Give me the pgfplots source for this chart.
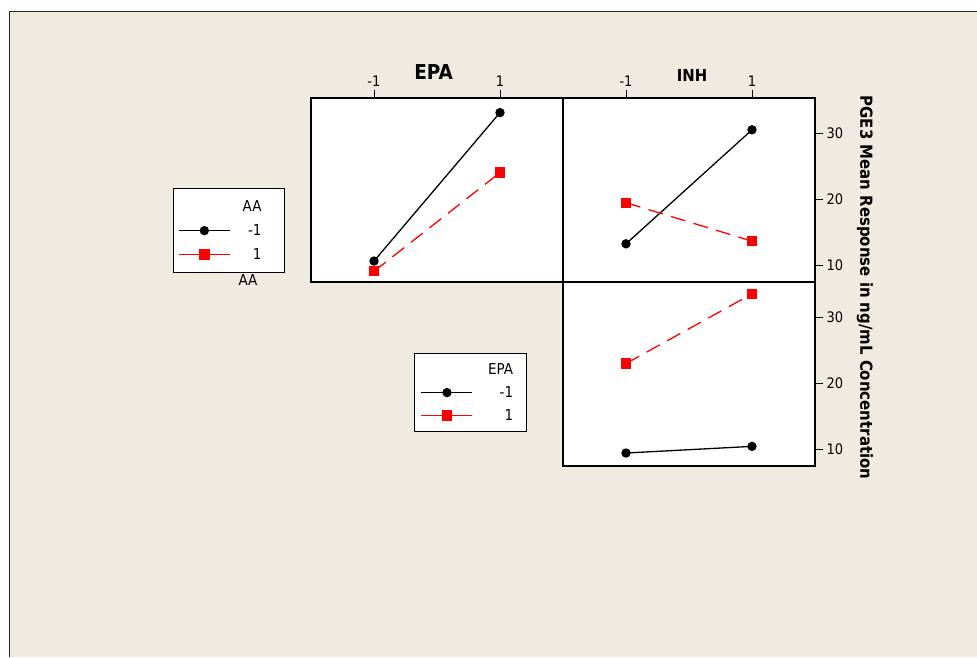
\documentclass[border=0pt]{standalone}
\usepackage{pgfplots}
\pgfplotsset{compat=1.18}
\usepackage{fontspec}
\setmainfont{DejaVu Sans Condensed}
\definecolor{bg}{RGB}{240,235,224}
\definecolor{myred}{RGB}{255,0,0}
\newcommand{\lt}[3]{\makebox[#1pt][l]{\makebox[#2pt][r]{#3}}}
\pgfplotsset{
  panel/.style={
    scale only axis, width=252pt, height=184pt,
    xmin=-2, xmax=2, ymin=7.54, ymax=35.3,
    axis line style={line width=1.2pt, black},
    tick style={line width=1pt, black},
    major tick length=8pt, tick align=outside,
    axis background/.style={fill=white},
    tick label style={font=\fontsize{14.5}{16}\selectfont},
    clip=false,
    legend image code/.code={\draw[mark repeat=2,mark phase=2,#1,solid] plot coordinates {(0pt,0pt)(25.5pt,0pt)(51pt,0pt)};},
  },
  blk/.style={black, solid, line width=1.3pt, mark=*, mark size=4pt, mark options={solid, fill=black}},
  rd/.style={myred, line width=1.3pt, dash pattern=on 15pt off 8.5pt, mark=square*, mark size=4.5pt, mark options={solid, fill=myred}},
  leg/.style={draw=black, line width=1pt, fill=white, column sep=3pt,
    nodes={inner sep=0pt, text height=10pt, text depth=0pt, font=\fontsize{15}{17}\selectfont},
    cells={anchor=west}},
}
\begin{document}
\begin{tikzpicture}
\path[use as bounding box] (0pt,0pt) rectangle (977pt,657pt);
\fill[white] (0pt,0pt) rectangle (977pt,657pt);
\fill[bg] (9pt,0pt) rectangle (977pt,645pt);
\draw[line width=1pt, black!85] (9pt,0pt) -- (9pt,645pt) -- (977pt,645pt);

% top-left panel: EPA on x, lines by AA
\begin{axis}[panel, at={(311pt,375pt)}, anchor=south west,
  xtick={-1,1}, xticklabels={-1,1}, xtick pos=right, xticklabel pos=right,
  ytick=\empty,
  legend style={leg, at={(-0.5488,0.509)}, anchor=north west, inner xsep=5pt, inner ysep=13pt, row sep=13.8pt}]
\addlegendimage{empty legend}
\addlegendentry{\lt{46}{28}{AA}}
\addplot[blk] coordinates {(-1,10.7) (1,33.1)};
\addlegendentry{\lt{46}{28}{-1}}
\addplot[rd] coordinates {(-1,9.15) (1,24.05)};
\addlegendentry{\lt{46}{28}{1}}
\end{axis}

% top-right panel: INH on x, lines by AA
\begin{axis}[panel, at={(563pt,375pt)}, anchor=south west,
  xtick={-1,1}, xticklabels={-1,1}, xtick pos=right, xticklabel pos=right,
  ytick={10,20,30}, yticklabels={10,20,30}, ytick pos=right, yticklabel pos=right]
\addplot[blk] coordinates {(-1,13.3) (1,30.5)};
\addplot[rd] coordinates {(-1,19.5) (1,13.7)};
\end{axis}

% bottom-right panel: INH on x, lines by EPA
\begin{axis}[panel, at={(563pt,191pt)}, anchor=south west,
  xtick=\empty,
  ytick={10,20,30}, yticklabels={10,20,30}, ytick pos=right, yticklabel pos=right,
  legend style={leg, at={(-0.590,0.6135)}, anchor=north west, inner xsep=6pt, inner ysep=11pt, row sep=13pt}]
\addlegendimage{empty legend}
\addlegendentry{\lt{44}{37}{EPA}}
\addplot[blk] coordinates {(-1,9.5) (1,10.5)};
\addlegendentry{\lt{44}{37}{-1}}
\addplot[rd] coordinates {(-1,23.0) (1,33.5)};
\addlegendentry{\lt{44}{37}{1}}
\end{axis}

\node[font=\bfseries\fontsize{20.5}{24}\selectfont, anchor=base] at (433.5pt,577pt) {EPA};
\node[font=\bfseries\fontsize{16.5}{19}\selectfont, anchor=base] at (692pt,575pt) {INH};
\node[rotate=-90, font=\bfseries\fontsize{16.6}{19}\selectfont] at (865pt,369.5pt) {PGE3 Mean Response in ng/mL Concentration};
\node[font=\fontsize{15}{17}\selectfont] at (248pt,377pt) {AA};
\end{tikzpicture}
\end{document}
